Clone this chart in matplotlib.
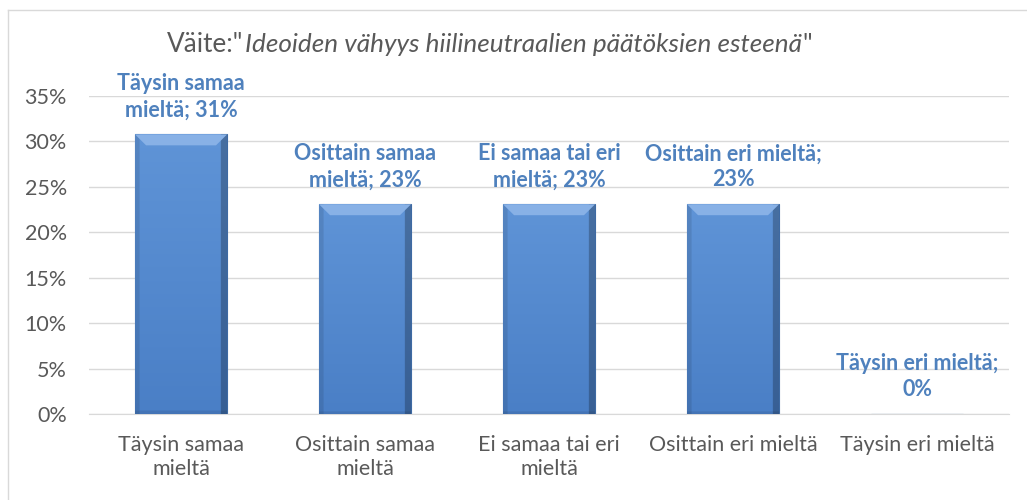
import numpy as np
import matplotlib

matplotlib.use('Agg')
import matplotlib.pyplot as plt
from matplotlib.colors import to_rgb
from matplotlib.patches import Polygon
from matplotlib.lines import Line2D

# data
categories = ["Täysin samaa\nmieltä", "Osittain samaa\nmieltä", "Ei samaa tai eri\nmieltä",
              "Osittain eri mieltä", "Täysin eri mieltä"]
shares = [0.3077, 0.2308, 0.2308, 0.2308, 0.0]
point_labels = ["Täysin samaa\nmieltä; 31%", "Osittain samaa\nmieltä; 23%", "Ei samaa tai eri\nmieltä; 23%",
                "Osittain eri mieltä;\n23%", "Täysin eri mieltä;\n0%"]
yticks = [0, 0.05, 0.10, 0.15, 0.20, 0.25, 0.30, 0.35]

plt.rcParams['font.family'] = ['Lato', 'DejaVu Sans']
GREY = "#595959"
LABEL_BLUE = "#4F81BD"

fig = plt.figure(figsize=(10.27, 5.0), dpi=100)
ax = fig.add_axes([0.0867, 0.172, 0.8958, 0.636])

x = np.arange(len(categories))
bars = ax.bar(x, shares, width=0.5, color="#5289cf", edgecolor="#3e6aa3", linewidth=0.8, zorder=2)


def bevel_image(nx=60, ny=160):
    # vertical gradient with darker side and bottom edges
    top = np.array(to_rgb("#5f94d7"))
    bot = np.array(to_rgb("#4a7fc6"))
    t = np.linspace(0, 1, ny)[:, None, None]
    img = top * (1 - t) + bot * t
    img = np.repeat(img, nx, axis=1)
    u = np.linspace(0, 1, nx)
    shade = np.ones(nx)
    shade[u < 0.05] = 0.9
    shade[u > 0.94] = 0.75
    img = img * shade[None, :, None]
    img[-2:] *= 0.92
    return np.clip(img, 0, 1)


img = bevel_image()
for b in bars:
    h = b.get_height()
    if h <= 0:
        continue
    x0, w = b.get_x(), b.get_width()
    im = ax.imshow(img, aspect='auto', zorder=3, extent=[x0, x0 + w, 0, h])
    im.set_clip_path(b)
    # light top bevel
    d = 0.012
    ax.add_patch(Polygon([[x0, h], [x0 + w, h], [x0 + w - 0.06, h - d], [x0 + 0.06, h - d]],
                         closed=True, facecolor="#88b1e6", edgecolor="none", zorder=4))

for xi, val, lab in zip(x, shares, point_labels):
    ax.annotate(lab, (xi, val), xytext=(0, 10), textcoords="offset points",
                ha="center", va="bottom", fontsize=15.5, fontweight="bold",
                color=LABEL_BLUE, linespacing=1.3, annotation_clip=False)

ax.set_xlim(-0.5, len(categories) - 0.5)
ax.set_ylim(0, 0.35)
ax.set_yticks(yticks)
ax.set_yticklabels([f"{int(round(t * 100))}%" for t in yticks], fontsize=15.5, color=GREY)
ax.set_xticks(x)
ax.set_xticklabels(categories, fontsize=15.5, color=GREY, linespacing=1.25)
ax.tick_params(axis="both", length=0)
ax.tick_params(axis="y", pad=16)
ax.tick_params(axis="x", pad=15)
ax.grid(axis="y", color="#d9d9d9", linewidth=1, zorder=0)
ax.set_axisbelow(True)
for s in ["top", "right", "left"]:
    ax.spines[s].set_visible(False)
ax.spines["bottom"].set_color("#d9d9d9")

# title: plain prefix, italic statement, closing quote, chained by measured widths
title_y = 0.91
parts = [('Väite:"', "normal"), ('Ideoiden vähyys hiilineutraalien päätöksien esteenä', "italic"), ('"', "normal")]
renderer = fig.canvas.get_renderer()
texts = [fig.text(0, title_y, s, fontsize=18.8, color=GREY, style=st, ha="left", va="center")
         for s, st in parts]
widths = [t.get_window_extent(renderer).width / fig.bbox.width for t in texts]
xpos = 0.476 - sum(widths) / 2
for t, wd in zip(texts, widths):
    t.set_x(xpos)
    xpos += wd + 0.001

# chart frame (only left and top edges fall inside the picture)
fig.lines.append(Line2D([0.008, 0.008], [0.0, 0.98], transform=fig.transFigure, color="#d9d9d9", lw=1))
fig.lines.append(Line2D([0.008, 1.0], [0.98, 0.98], transform=fig.transFigure, color="#d9d9d9", lw=1))

fig.savefig("out.png", dpi=100)
